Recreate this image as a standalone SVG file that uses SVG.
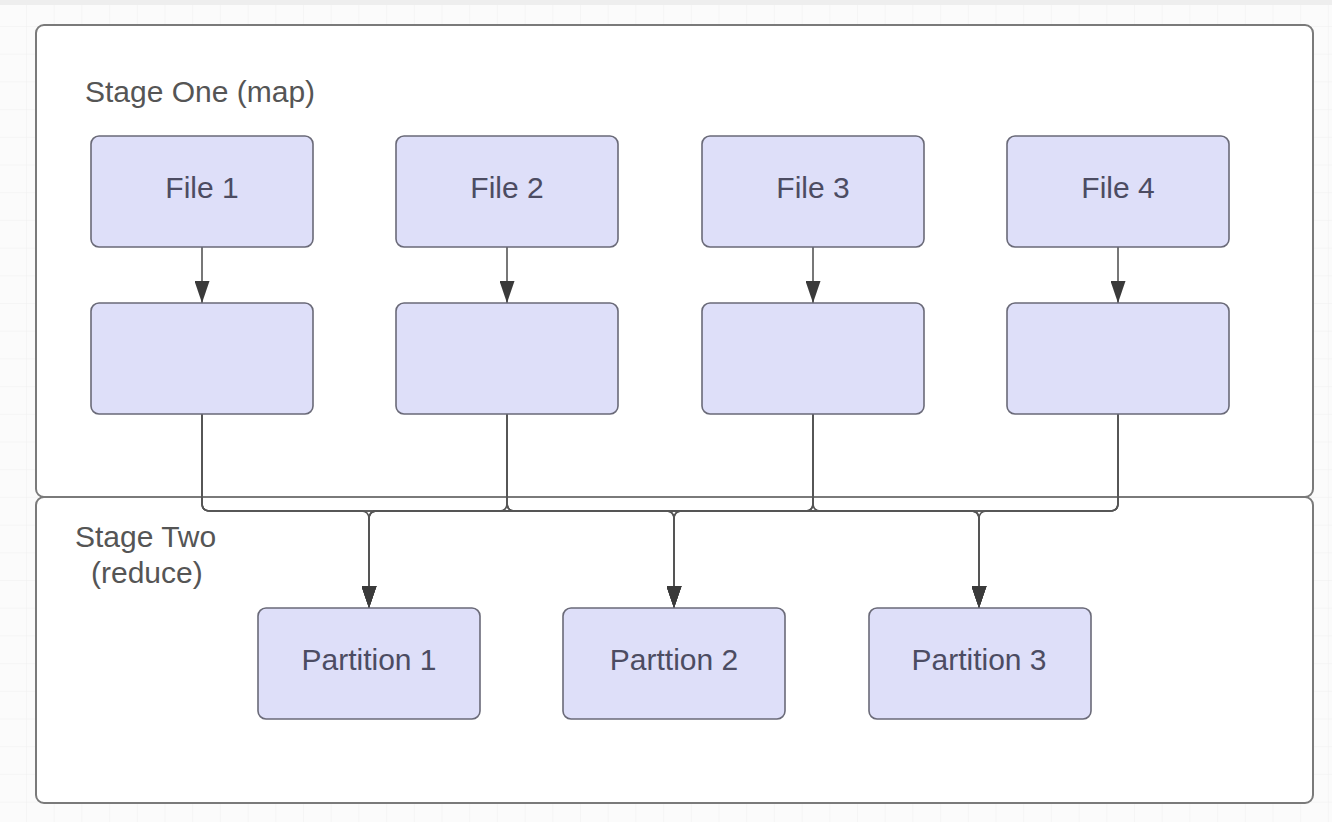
<svg xmlns="http://www.w3.org/2000/svg" width="1332" height="822" viewBox="0 0 1332 822">
  <defs>
    <pattern id="grid" x="26" y="26" width="27.7" height="27.7" patternUnits="userSpaceOnUse">
      <path d="M0 0 H27.7 M0 0 V27.7" fill="none" stroke="#efefef" stroke-width="1"/>
    </pattern>
    <marker id="arrow" viewBox="0 0 22 15" refX="22" refY="7.5" markerWidth="22" markerHeight="15" markerUnits="userSpaceOnUse" orient="auto">
      <path d="M0 0 L22 7.5 L0 15 Z" fill="#3a3a3a"/>
    </marker>
    <style>
      .container { fill: #ffffff; stroke: #7a7a7a; stroke-width: 2; }
      .node { fill: #dedff9; stroke: #6a6a78; stroke-width: 1.6; }
      .node-text { font-family: "Liberation Sans", Arial, sans-serif; font-size: 30px; fill: #4c4c62; text-anchor: middle; }
      .label { font-family: "Liberation Sans", Arial, sans-serif; font-size: 30px; fill: #555555; }
      .edge { fill: none; stroke: #555555; stroke-width: 1.6; }
    </style>
  </defs>

  <!-- canvas background -->
  <rect x="0" y="0" width="1332" height="822" fill="#fbfbfb"/>
  <rect x="0" y="0" width="1332" height="822" fill="url(#grid)"/>
  <rect x="0" y="0" width="1332" height="5" fill="#eeeeee"/>

  <!-- stage containers -->
  <g id="stage-one">
    <rect class="container" x="36" y="25" width="1277" height="472" rx="8"/>
    <text class="label" x="85" y="102">Stage One (map)</text>
  </g>
  <g id="stage-two">
    <rect class="container" x="36" y="497" width="1277" height="306" rx="8"/>
    <text class="label" x="75" y="547">Stage Two</text>
    <text class="label" x="91" y="583">(reduce)</text>
  </g>

  <!-- connectors -->
  <g id="connectors">
    <!-- file to map output -->
    <path class="edge" d="M202 247 V303" marker-end="url(#arrow)"/>
    <path class="edge" d="M507 247 V303" marker-end="url(#arrow)"/>
    <path class="edge" d="M813 247 V303" marker-end="url(#arrow)"/>
    <path class="edge" d="M1118 247 V303" marker-end="url(#arrow)"/>

    <!-- map outputs shuffled to every partition -->
    <path class="edge" d="M202 414 V503 Q202 511 210 511 H361 Q369 511 369 519 V608" marker-end="url(#arrow)"/>
    <path class="edge" d="M202 414 V503 Q202 511 210 511 H666 Q674 511 674 519 V608" marker-end="url(#arrow)"/>
    <path class="edge" d="M202 414 V503 Q202 511 210 511 H971 Q979 511 979 519 V608" marker-end="url(#arrow)"/>

    <path class="edge" d="M507 414 V503 Q507 511 499 511 H377 Q369 511 369 519 V608" marker-end="url(#arrow)"/>
    <path class="edge" d="M507 414 V503 Q507 511 515 511 H666 Q674 511 674 519 V608" marker-end="url(#arrow)"/>
    <path class="edge" d="M507 414 V503 Q507 511 515 511 H971 Q979 511 979 519 V608" marker-end="url(#arrow)"/>

    <path class="edge" d="M813 414 V503 Q813 511 805 511 H377 Q369 511 369 519 V608" marker-end="url(#arrow)"/>
    <path class="edge" d="M813 414 V503 Q813 511 805 511 H682 Q674 511 674 519 V608" marker-end="url(#arrow)"/>
    <path class="edge" d="M813 414 V503 Q813 511 821 511 H971 Q979 511 979 519 V608" marker-end="url(#arrow)"/>

    <path class="edge" d="M1118 414 V503 Q1118 511 1110 511 H377 Q369 511 369 519 V608" marker-end="url(#arrow)"/>
    <path class="edge" d="M1118 414 V503 Q1118 511 1110 511 H682 Q674 511 674 519 V608" marker-end="url(#arrow)"/>
    <path class="edge" d="M1118 414 V503 Q1118 511 1110 511 H987 Q979 511 979 519 V608" marker-end="url(#arrow)"/>
  </g>

  <!-- input files -->
  <g id="file-1">
    <rect class="node" x="91" y="136" width="222" height="111" rx="8"/>
    <text class="node-text" x="202" y="198">File 1</text>
  </g>
  <g id="file-2">
    <rect class="node" x="396" y="136" width="222" height="111" rx="8"/>
    <text class="node-text" x="507" y="198">File 2</text>
  </g>
  <g id="file-3">
    <rect class="node" x="702" y="136" width="222" height="111" rx="8"/>
    <text class="node-text" x="813" y="198">File 3</text>
  </g>
  <g id="file-4">
    <rect class="node" x="1007" y="136" width="222" height="111" rx="8"/>
    <text class="node-text" x="1118" y="198">File 4</text>
  </g>

  <!-- map outputs -->
  <g id="map-1">
    <rect class="node" x="91" y="303" width="222" height="111" rx="8"/>
  </g>
  <g id="map-2">
    <rect class="node" x="396" y="303" width="222" height="111" rx="8"/>
  </g>
  <g id="map-3">
    <rect class="node" x="702" y="303" width="222" height="111" rx="8"/>
  </g>
  <g id="map-4">
    <rect class="node" x="1007" y="303" width="222" height="111" rx="8"/>
  </g>

  <!-- reduce partitions -->
  <g id="partition-1">
    <rect class="node" x="258" y="608" width="222" height="111" rx="8"/>
    <text class="node-text" x="369" y="670">Partition 1</text>
  </g>
  <g id="partition-2">
    <rect class="node" x="563" y="608" width="222" height="111" rx="8"/>
    <text class="node-text" x="674" y="670">Parttion 2</text>
  </g>
  <g id="partition-3">
    <rect class="node" x="869" y="608" width="222" height="111" rx="8"/>
    <text class="node-text" x="979" y="670">Partition 3</text>
  </g>
</svg>
